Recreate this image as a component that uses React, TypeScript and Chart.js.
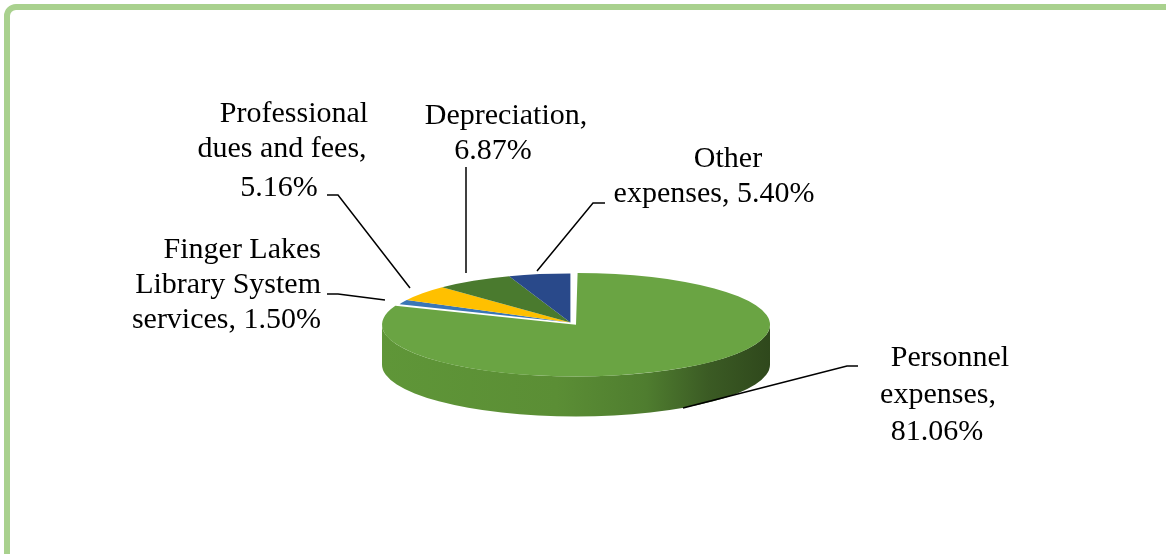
import React, { useEffect, useRef } from "react";
import { Chart, registerables } from "chart.js";

Chart.register(...registerables);

// ---- data ----
const categories = [
  "Personnel expenses",
  "Finger Lakes Library System services",
  "Professional dues and fees",
  "Depreciation",
  "Other expenses",
];
const shares = [81.06, 1.5, 5.16, 6.87, 5.4];
const faceColors = ["#6aa443", "#3a76b6", "#ffc000", "#4a7a2e", "#29498a"];
const explodeOffsets = [40, 0, 0, 0, 0];
// words per label line
const labelLineWords = [
  [1, 1, 1],
  [2, 2, 2],
  [1, 3, 1],
  [1, 1],
  [1, 2],
];

// ---- layout / style ----
const W = 1166;
const H = 554;
const TILT = 0.2668;
const DEPTH = 40;
const RADIUS = 184;
const CX = 570.4;
const CY = 322.5;
const FONT = "30px 'Liberation Serif', 'Times New Roman', serif";

type Anchor = {
  xs: number[];
  ys: number[];
  align: CanvasTextAlign;
  leader: number[][];
};
const labelAnchors: Anchor[] = [
  { xs: [950, 938, 937], ys: [366, 403, 440], align: "center", leader: [[858, 366], [847, 366], [683, 408]] },
  { xs: [321, 321, 321], ys: [258, 293, 328], align: "right", leader: [[327, 294], [338, 294], [385, 300]] },
  { xs: [294, 282, 279], ys: [122, 157, 196], align: "center", leader: [[327, 195], [338, 195], [410, 288]] },
  { xs: [506, 493], ys: [124, 159], align: "center", leader: [[466, 167], [466, 273]] },
  { xs: [728, 714], ys: [167, 202], align: "center", leader: [[605, 203], [593, 203], [537, 271]] },
];

function buildLines(i: number): string[] {
  const words = `${categories[i]}, ${shares[i].toFixed(2)}%`.split(" ");
  const out: string[] = [];
  let p = 0;
  for (const n of labelLineWords[i]) {
    out.push(words.slice(p, p + n).join(" "));
    p += n;
  }
  return out;
}

const pie3d = {
  id: "pie3d",
  beforeDraw(chart: any) {
    const ctx: CanvasRenderingContext2D = chart.ctx;
    ctx.save();
    ctx.fillStyle = "#ffffff";
    ctx.fillRect(0, 0, W, H);
    ctx.strokeStyle = "#a9d18e";
    ctx.lineWidth = 6;
    ctx.beginPath();
    (ctx as any).roundRect(7, 7, W + 60, H + 60, 9);
    ctx.stroke();
    ctx.restore();
  },
  beforeDatasetsDraw(chart: any) {
    const ctx: CanvasRenderingContext2D = chart.ctx;
    const meta = chart.getDatasetMeta(0);
    const arcs = meta.data;
    if (!arcs.length) return;
    const cx = arcs[0].x;
    const cy = arcs[0].y;
    arcs.forEach((arc: any) => {
      const p = arc.getProps(["startAngle", "endAngle", "outerRadius", "circumference"], true);
      const off = (arc.options.offset || 0) / 4;
      const mid = (p.startAngle + p.endAngle) / 2;
      const fix = 1 - Math.sin(Math.min(Math.PI, p.circumference || 0));
      const R = p.outerRadius + off * fix;
      const X = cx + Math.cos(mid) * off;
      const Y = cy + Math.sin(mid) * off * TILT;
      const a0 = Math.max(p.startAngle, 0);
      const a1 = Math.min(p.endAngle, Math.PI);
      if (a1 <= a0) return;
      ctx.save();
      ctx.beginPath();
      ctx.ellipse(X, Y, R, R * TILT, 0, a0, a1, false);
      ctx.lineTo(X + R * Math.cos(a1), Y + R * TILT * Math.sin(a1) + DEPTH);
      ctx.ellipse(X, Y + DEPTH, R, R * TILT, 0, a1, a0, true);
      ctx.closePath();
      const g = ctx.createLinearGradient(X - R, 0, X + R, 0);
      g.addColorStop(0, "#5f9638");
      g.addColorStop(0.45, "#5b8e35");
      g.addColorStop(0.68, "#4f7d2f");
      g.addColorStop(0.84, "#3b5b24");
      g.addColorStop(1, "#2f481c");
      ctx.fillStyle = g;
      ctx.fill();
      ctx.restore();
    });
    ctx.save();
    ctx.translate(cx, cy);
    ctx.scale(1, TILT);
    ctx.translate(-cx, -cy);
  },
  afterDatasetsDraw(chart: any) {
    chart.ctx.restore();
  },
  afterDraw(chart: any) {
    const ctx: CanvasRenderingContext2D = chart.ctx;
    ctx.save();
    ctx.strokeStyle = "#000000";
    ctx.lineWidth = 1.5;
    labelAnchors.forEach((a) => {
      ctx.beginPath();
      a.leader.forEach((pt, j) => (j === 0 ? ctx.moveTo(pt[0], pt[1]) : ctx.lineTo(pt[0], pt[1])));
      ctx.stroke();
    });
    ctx.fillStyle = "#000000";
    ctx.font = FONT;
    ctx.textBaseline = "alphabetic";
    labelAnchors.forEach((a, i) => {
      const lines = buildLines(i);
      ctx.textAlign = a.align;
      lines.forEach((t, j) => ctx.fillText(t, a.xs[j], a.ys[j]));
    });
    ctx.restore();
  },
};

export default function App() {
  const ref = useRef<HTMLCanvasElement | null>(null);
  useEffect(() => {
    if (!ref.current) return;
    const half = 200;
    const chart = new Chart(ref.current, {
      type: "pie",
      data: {
        labels: categories,
        datasets: [
          {
            data: shares,
            backgroundColor: faceColors,
            borderWidth: 0,
            offset: explodeOffsets,
            clip: false as any,
          } as any,
        ],
      },
      options: {
        responsive: false,
        animation: false,
        events: [],
        radius: RADIUS,
        layout: {
          padding: {
            left: CX - half,
            right: W - (CX + half),
            top: CY - half,
            bottom: H - (CY + half),
          },
        },
        plugins: {
          legend: { display: false },
          tooltip: { enabled: false },
        },
      } as any,
      plugins: [pie3d],
    });
    return () => chart.destroy();
  }, []);
  return (
    <div style={{ position: "fixed", left: 0, top: 0, width: W, height: H, overflow: "hidden", background: "#fff" }}>
      <canvas ref={ref} width={W} height={H} style={{ width: W, height: H, display: "block" }} />
    </div>
  );
}
